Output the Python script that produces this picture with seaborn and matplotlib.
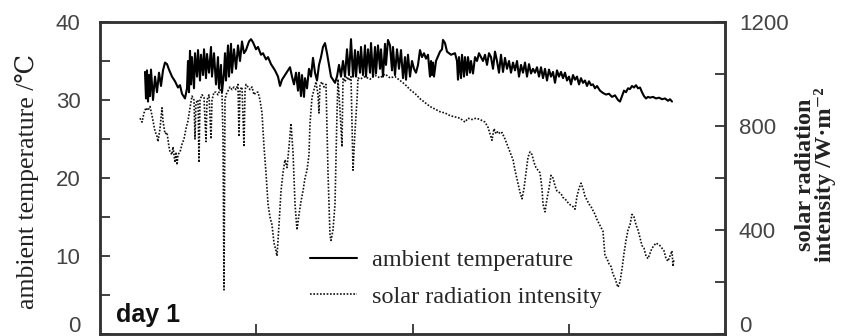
import matplotlib
matplotlib.use("Agg")
import matplotlib.pyplot as plt
import matplotlib.transforms as mtransforms
import pandas as pd
import seaborn as sns
from matplotlib.ticker import MultipleLocator
from matplotlib.lines import Line2D

# ---- data (time in minutes from start of record) ----
temp_time = [
    45, 46, 47, 48, 49, 50, 51, 53, 55, 57,
    59, 61, 63, 65, 67, 69, 72, 75, 78, 80,
    82, 85, 87, 88, 89, 90, 91, 92, 94, 95,
    97, 98, 100, 101, 103, 104, 106, 107, 109, 111,
    112, 114, 116, 118, 119, 121, 122, 124, 125, 126,
    128, 129, 131, 132, 134, 136, 138, 140, 142, 144,
    146, 149, 151, 153, 156, 158, 161, 163, 166, 168,
    171, 173, 175, 178, 180, 182, 185, 188, 190, 192,
    194, 196, 198, 199, 201, 202, 204, 205, 207, 209,
    211, 213, 215, 217, 219, 221, 223, 225, 227, 229,
    231, 233, 235, 237, 239, 241, 243, 245, 247, 249,
    251, 253, 255, 256, 258, 260, 261, 263, 265, 266,
    268, 270, 271, 273, 275, 276, 278, 280, 281, 283,
    285, 286, 288, 290, 292, 293, 295, 297, 299, 301,
    303, 305, 306, 308, 310, 312, 314, 316, 318, 320,
    322, 324, 326, 328, 330, 331, 332, 333, 334, 336,
    338, 340, 342, 343, 345, 347, 349, 351, 353, 355,
    357, 358, 359, 361, 362, 364, 365, 367, 368, 370,
    371, 373, 375, 377, 379, 381, 383, 385, 387, 389,
    391, 393, 395, 397, 399, 401, 403, 405, 407, 409,
    411, 413, 415, 417, 419, 421, 423, 425, 427, 429,
    431, 433, 435, 437, 439, 441, 443, 445, 447, 449,
    451, 453, 455, 457, 459, 461, 463, 465, 467, 469,
    471, 473, 475, 477, 479, 481, 483, 485, 487, 489,
    491, 493, 495, 497, 500, 503, 506, 509, 512, 515,
    518, 520, 522, 524, 526, 528, 530, 532, 534, 536,
    538, 540, 542, 544, 546, 548, 550, 553, 556, 559,
    562, 565, 568, 570, 572,
]
temp_value = [
    33.6, 30.2, 33.8, 29.8, 33.2, 30.5, 33.9, 30.0, 33.0, 31.0,
    33.5, 31.8, 33.8, 34.8, 34.6, 33.9, 33.0, 32.4, 31.6, 31.9,
    30.8, 30.2, 31.5, 35.0, 31.0, 36.3, 32.0, 35.5, 31.5, 36.0,
    33.0, 36.4, 32.5, 35.8, 33.2, 36.5, 32.8, 35.9, 33.5, 36.8,
    33.0, 36.0, 32.0, 35.5, 31.5, 34.5, 31.0, 33.5, 36.0, 32.5,
    37.0, 33.0, 37.2, 33.5, 36.5, 34.0, 37.0, 35.0, 37.5, 36.0,
    36.4, 37.5, 37.8, 37.4, 36.5, 36.8, 35.8, 36.0, 35.2, 35.5,
    34.6, 34.2, 33.8, 33.0, 31.8, 32.6, 33.2, 33.8, 34.2, 33.0,
    32.0, 33.5, 31.2, 33.5, 30.5, 33.2, 30.4, 32.8, 31.5, 34.0,
    33.0, 35.4, 33.5, 32.5, 34.5, 35.5, 36.8, 37.3, 36.0, 34.5,
    33.0, 32.6, 32.2, 33.0, 34.5, 33.0, 35.0, 33.0, 36.5, 33.2,
    37.8, 33.0, 36.4, 33.0, 36.2, 33.5, 36.8, 33.2, 37.0, 33.0,
    36.5, 33.5, 37.3, 33.0, 36.8, 33.4, 37.0, 34.0, 36.5, 33.0,
    37.2, 34.5, 37.7, 37.0, 33.8, 36.8, 33.2, 36.5, 34.0, 36.4,
    32.8, 35.5, 32.6, 35.8, 33.0, 35.0, 34.0, 33.5, 34.5, 36.4,
    35.5, 36.0, 35.3, 35.8, 33.0, 35.0, 33.2, 34.8, 33.0, 35.0,
    35.6, 36.2, 36.5, 37.7, 37.3, 36.2, 36.0, 35.8, 35.9, 36.0,
    35.0, 32.6, 35.5, 32.8, 35.8, 33.0, 35.5, 33.2, 35.5, 33.5,
    35.0, 33.4, 35.5, 35.0, 36.0, 35.5, 35.0, 35.8, 34.5, 36.0,
    35.5, 34.0, 36.2, 35.0, 33.5, 35.8, 33.6, 35.4, 34.0, 35.0,
    33.5, 34.8, 33.8, 35.0, 33.0, 34.5, 33.5, 34.8, 33.0, 34.6,
    33.4, 34.0, 33.5, 34.2, 33.0, 34.2, 32.8, 34.0, 32.5, 33.9,
    33.0, 33.6, 32.2, 33.8, 33.0, 33.6, 32.8, 33.5, 32.5, 33.0,
    32.0, 33.2, 32.6, 33.0, 32.0, 32.8, 32.2, 32.5, 31.8, 32.4,
    31.9, 32.0, 31.5, 31.8, 31.2, 30.9, 30.7, 30.8, 30.4, 30.6,
    30.0, 29.8, 30.5, 31.2, 31.0, 31.5, 31.4, 31.8, 31.6, 31.9,
    31.5, 31.6, 31.0, 30.5, 30.2, 30.4, 30.3, 30.4, 30.2, 30.3,
    30.1, 30.2, 29.9, 30.1, 29.8,
]

rad_time = [
    40, 42, 44, 46, 48, 50, 52, 54, 55, 57,
    58, 60, 62, 63, 65, 67, 69, 70, 72, 73,
    75, 76, 77, 78, 80, 82, 84, 86, 88, 90,
    92, 94, 95, 96, 98, 99, 100, 102, 104, 106,
    107, 109, 111, 112, 114, 116, 118, 120, 122, 123,
    124, 125, 126, 128, 130, 132, 134, 136, 138, 139,
    140, 142, 144, 145, 146, 148, 150, 152, 154, 156,
    158, 160, 162, 164, 166, 168, 170, 172, 174, 176,
    177, 179, 181, 183, 185, 187, 189, 191, 193, 195,
    197, 199, 201, 203, 205, 207, 209, 210, 212, 214,
    216, 218, 219, 220, 222, 224, 226, 228, 230, 231,
    233, 235, 237, 238, 240, 242, 243, 245, 247, 249,
    251, 253, 255, 257, 258, 260, 265, 270, 275, 280,
    285, 290, 295, 300, 305, 310, 315, 320, 325, 330,
    335, 340, 345, 350, 355, 360, 365, 368, 372, 376,
    380, 385, 388, 390, 392, 394, 396, 398, 400, 402,
    405, 408, 411, 413, 415, 418, 420, 422, 424, 426,
    428, 430, 432, 434, 436, 438, 440, 442, 443, 445,
    447, 449, 451, 453, 455, 457, 459, 461, 463, 465,
    467, 469, 471, 473, 475, 477, 479, 481, 483, 485,
    487, 489, 491, 493, 495, 497, 499, 501, 503, 505,
    507, 509, 511, 513, 515, 517, 518, 520, 522, 524,
    526, 528, 530, 532, 534, 536, 538, 540, 542, 544,
    546, 548, 550, 552, 554, 556, 558, 560, 562, 564,
    566, 568, 570, 572, 573, 574,
]
rad_value = [
    830, 815, 850, 870, 860, 875, 840, 800, 780, 760,
    740, 790, 870, 820, 770, 775, 720, 700, 690, 720,
    660, 700, 650, 690, 700, 730, 750, 790, 820, 870,
    915, 900, 750, 890, 900, 660, 900, 920, 910, 740,
    900, 920, 750, 900, 930, 930, 920, 940, 925, 760,
    170, 900, 920, 935, 950, 940, 950, 940, 960, 760,
    940, 950, 720, 930, 960, 950, 940, 950, 920, 930,
    930, 900, 850, 720, 620, 500, 450, 420, 350, 320,
    300, 420, 550, 620, 670, 640, 720, 810, 700, 500,
    400, 460, 510, 550, 600, 630, 690, 810, 910, 940,
    970, 920, 850, 960, 970, 950, 960, 620, 380, 360,
    400, 500, 850, 980, 860, 720, 985, 970, 990, 975,
    990, 630, 780, 900, 985, 980, 990, 980, 995, 985,
    1000, 985, 990, 975, 960, 940, 925, 905, 890, 875,
    865, 855, 850, 840, 835, 830, 815, 830, 825, 830,
    825, 815, 795, 770, 745, 790, 770, 780, 770, 775,
    750, 720, 690, 670, 630, 580, 545, 520, 560, 620,
    680, 700, 690, 660, 640, 630, 620, 560, 500, 470,
    520, 560, 610, 600, 570, 550, 545, 540, 525, 520,
    510, 500, 495, 490, 480, 530, 560, 580, 560, 530,
    515, 500, 490, 475, 460, 440, 425, 410, 395, 300,
    290, 270, 260, 230, 215, 190, 180, 200, 250, 310,
    360, 400, 420, 460, 450, 420, 400, 370, 340, 330,
    300, 290, 310, 330, 340, 350, 345, 340, 330, 320,
    290, 280, 300, 320, 260, 290,
]

series_labels = ["ambient temperature", "solar radiation intensity"]
left_ticks = [0, 10, 20, 30, 40]
right_ticks = [0, 400, 800, 1200]
panel_label = "day 1"

temp_df = pd.DataFrame({"time": temp_time, "temp": temp_value})
rad_df = pd.DataFrame({"time": rad_time, "rad": rad_value})

sns.set_theme(style="white")
plt.rcParams["font.family"] = ["Liberation Sans", "DejaVu Sans"]

fig = plt.figure(figsize=(8.51, 3.36), dpi=100)
ax = fig.add_axes([100 / 851, 2 / 336, 625 / 851, 312 / 336])
ax2 = ax.twinx()

dot_style = (0, (1.0, 1.0))
sns.lineplot(data=temp_df, x="time", y="temp", ax=ax, color="black",
             lw=1.5, estimator=None, sort=False, zorder=3)
sns.lineplot(data=rad_df, x="time", y="rad", ax=ax2, color="#111111",
             lw=1.2, linestyle=dot_style, estimator=None, sort=False)

ax.set_xlim(0, 625)
ax.set_ylim(0, 40)
ax2.set_ylim(0, 1200)
ax.set_xticks([156.25, 312.5, 468.75])
ax.set_xlabel("")

ax.set_yticks(left_ticks)
ax.yaxis.set_minor_locator(MultipleLocator(5))
ax2.set_yticks(right_ticks)
ax2.yaxis.set_minor_locator(MultipleLocator(200))

tick_col = "#444444"
ax.tick_params(axis="x", which="both", direction="in", length=7, width=1.3,
               bottom=True, top=False, labelbottom=False, color="#333333")
ax.tick_params(axis="y", which="both", direction="in", length=7, width=1.3,
               left=True, right=False, labelsize=16, pad=14,
               labelcolor=tick_col, color="#333333")
ax2.tick_params(axis="y", which="both", direction="in", length=7, width=1.3,
                right=True, left=False, labelsize=16, pad=10,
                labelcolor=tick_col, color="#333333")
ax2.tick_params(axis="x", which="both", top=False, bottom=False)

for a in (ax, ax2):
    for s in a.spines.values():
        s.set_linewidth(1.8)
        s.set_color("#333333")
        s.set_visible(True)

# lift the "0" labels so they stay inside the picture, as in the reference
fig.canvas.draw()
lift = mtransforms.ScaledTranslation(0, 10 / 100, fig.dpi_scale_trans)
for a in (ax, ax2):
    for lab in a.get_yticklabels():
        if lab.get_text() == "0":
            lab.set_transform(lab.get_transform() + lift)

ax.set_ylabel("ambient temperature /℃",
              family=["Liberation Serif", "DejaVu Serif", "DejaVu Sans"],
              fontsize=18.5, color="#222222")
ax.yaxis.set_label_coords(-0.098, 0.49)
ax2.set_ylabel("solar radiation\nintensity /W·m⁻²",
               family=["Liberation Serif", "DejaVu Serif"],
               fontweight="bold", fontsize=17.5, color="#222222",
               linespacing=0.9)
ax2.yaxis.set_label_coords(1.112, 0.51)

ax.text(16 / 625, 12 / 312, panel_label, transform=ax.transAxes,
        fontsize=18, fontweight="bold", va="baseline", ha="left",
        family=["Liberation Sans", "DejaVu Sans"], color="#111111")

handles = [Line2D([], [], color="black", lw=1.5),
           Line2D([], [], color="#111111", lw=1.2, linestyle=dot_style)]
fig.legend(handles, series_labels, loc="upper left",
           bbox_to_anchor=(310 / 851, 1 - 249 / 336), frameon=False,
           prop={"family": "Liberation Serif", "size": 17.5},
           handlelength=1.95, handletextpad=0.6, labelspacing=0.6,
           borderpad=0, borderaxespad=0)

ax.set_zorder(ax2.get_zorder() + 1)
ax.patch.set_visible(False)

fig.savefig("out.png", dpi=100)
